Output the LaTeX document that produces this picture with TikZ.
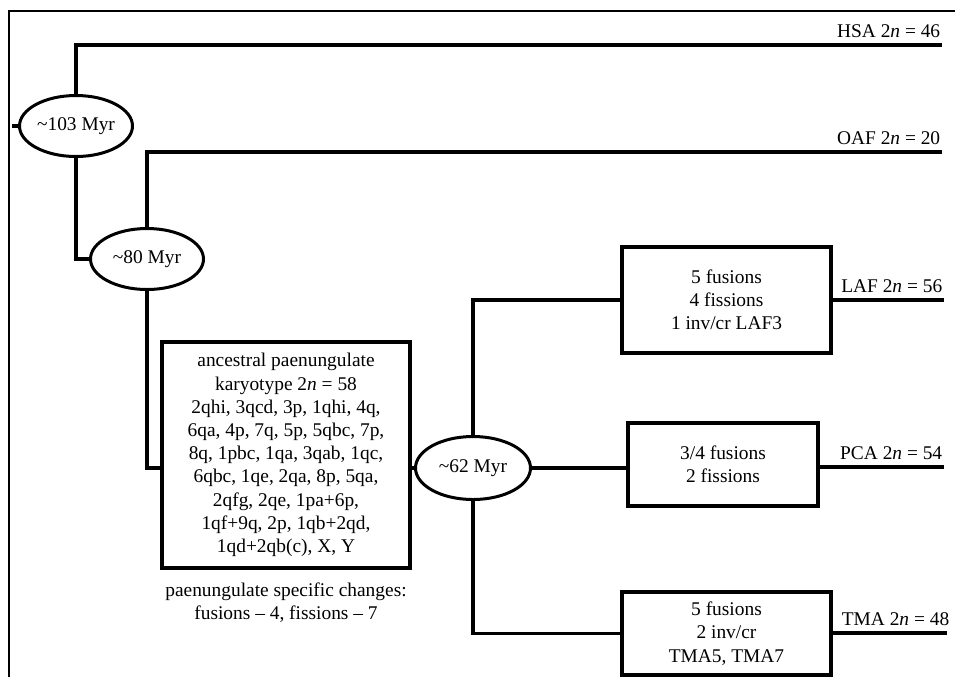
\documentclass[tikz,border=0pt]{standalone}
\usepackage{fontspec}
\setmainfont{Liberation Serif}
\usetikzlibrary{shapes.geometric,positioning}

\begin{document}
\begin{tikzpicture}[x=0.5pt,y=-0.5pt,line width=1.8pt]
    \tikzstyle{every node}=[font=\fontsize{9.7pt}{11.6pt}\selectfont,align=center]
    \tikzstyle{myr}=[draw,ellipse,line width=1.5pt,minimum width=56.5pt,minimum height=30.5pt,inner sep=0]
    \tikzstyle{box}=[draw,rectangle,line width=2pt,inner sep=0]
    \tikzstyle{lbl}=[anchor=south east,inner xsep=0pt,inner ysep=3pt]
    \useasboundingbox (0,0) rectangle (955,677);
    \draw [line width=0.75pt] (9,677) -- (9,11) -- (955,11);
    \node[myr] (m103) at (76,126) {\textasciitilde103 Myr};
    \node[myr] (m80) at (147,259) {\textasciitilde80 Myr};
    \node[box,minimum width=124pt,minimum height=113pt] (anc) at (286,455) {ancestral paenungulate\\karyotype 2\textit{n} = 58\\2qhi, 3qcd, 3p, 1qhi, 4q,\\6qa, 4p, 7q, 5p, 5qbc, 7p,\\8q, 1pbc, 1qa, 3qab, 1qc,\\6qbc, 1qe, 2qa, 8p, 5qa,\\2qfg, 2qe, 1pa+6p,\\1qf+9q, 2p, 1qb+2qd,\\1qd+2qb(c), X, Y};
    \node[below=2pt of anc] (chg) {paenungulate specific changes:\\fusions -- 4, fissions -- 7};
    \node[myr,minimum width=57.5pt,minimum height=31.5pt] (m62) at (473,468) {\textasciitilde62 Myr};
    \node[box,minimum width=104.5pt,minimum height=53pt] (laf) at (726.5,300) {5 fusions\\4 fissions\\1 inv/cr LAF3};
    \node[box,minimum width=95pt,minimum height=41.5pt] (pca) at (723,464.5) {3/4 fusions\\2 fissions};
    \node[box,minimum width=104.5pt,minimum height=41.5pt] (tma) at (726.5,633.5) {5 fusions\\2 inv/cr\\TMA5, TMA7};
    \coordinate (root) at (12,126);
    \coordinate (hsa) at (942,45);
    \coordinate (oaf) at (942,152);
    \coordinate (lafE) at (944,298);
    \coordinate (pcaE) at (944,467);
    \coordinate (tmaE) at (947,633);
    \draw (root) -- (m103.west);
    \draw (m103.north) |- (hsa) node[lbl] {HSA 2\textit{n} = 46};
    \draw (m103.south) |- (m80.west);
    \draw (m80.north) |- (oaf) node[lbl] {OAF 2\textit{n} = 20};
    \draw (m80.south) |- (anc.west |- m62.west);
    \draw (anc.east |- m62.west) -- (m62.west);
    \draw (m62.north) |- (laf.west);
    \draw (m62.east) -- (m62.east -| pca.west);
    \draw (m62.south) |- (tma.west);
    \draw (laf.east) -- (laf.east -| lafE) node[lbl] {LAF 2\textit{n} = 56};
    \draw (pca.east |- pcaE) -- (pcaE) node[lbl] {PCA 2\textit{n} = 54};
    \draw (tma.east |- tmaE) -- (tmaE) node[lbl,xshift=2pt] {TMA 2\textit{n} = 48};
\end{tikzpicture}
\end{document}
